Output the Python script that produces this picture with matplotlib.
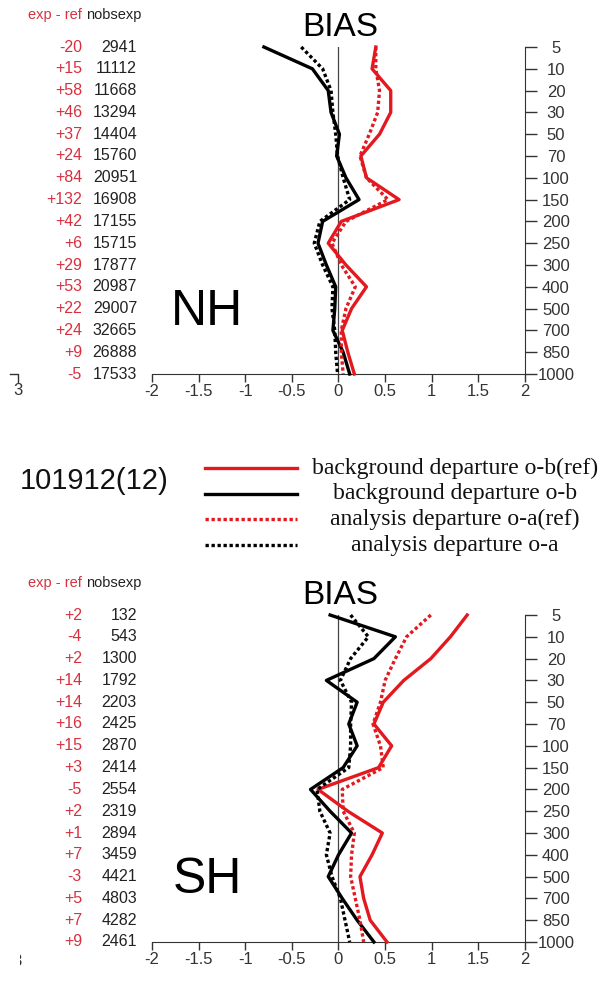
import matplotlib as mpl
mpl.use('Agg')
import matplotlib.pyplot as plt
from matplotlib.lines import Line2D
from matplotlib.transforms import blended_transform_factory, Bbox, TransformedBbox

# pressure levels (hPa), top to bottom
levels = ['5', '10', '20', '30', '50', '70', '100', '150', '200', '250', '300', '400', '500', '700', '850', '1000']
xticks = [-2, -1.5, -1, -0.5, 0, 0.5, 1, 1.5, 2]
xtick_labels = ['-2', '-1.5', '-1', '-0.5', '0', '0.5', '1', '1.5', '2']

# NH
nh_ob_ref = [0.40, 0.36, 0.56, 0.56, 0.44, 0.24, 0.30, 0.65, 0.03, -0.11, 0.08, 0.30, 0.14, 0.04, 0.10, 0.17]
nh_ob = [-0.80, -0.28, -0.11, -0.08, 0.01, -0.02, 0.08, 0.22, -0.17, -0.22, -0.13, -0.03, -0.04, -0.06, 0.05, 0.12]
nh_oa_ref = [0.40, 0.40, 0.44, 0.42, 0.33, 0.23, 0.30, 0.53, 0.08, -0.07, 0.03, 0.18, 0.08, 0.03, 0.03, 0.05]
nh_oa = [-0.40, -0.17, -0.08, -0.06, -0.03, -0.01, 0.05, 0.12, -0.20, -0.26, -0.17, -0.06, -0.07, -0.04, -0.03, -0.01]
nh_diff = ['-20', '+15', '+58', '+46', '+37', '+24', '+84', '+132', '+42', '+6', '+29', '+53', '+22', '+24', '+9', '-5']
nh_nobs = ['2941', '11112', '11668', '13294', '14404', '15760', '20951', '16908', '17155', '15715', '17877', '20987',
           '29007', '32665', '26888', '17533']

# SH
sh_ob_ref = [1.38, 1.20, 0.99, 0.70, 0.48, 0.38, 0.57, 0.43, -0.22, 0.10, 0.47, 0.36, 0.23, 0.27, 0.34, 0.52]
sh_ob = [-0.09, 0.61, 0.38, -0.13, 0.20, 0.11, 0.20, 0.05, -0.30, -0.09, 0.14, 0.00, -0.11, 0.04, 0.20, 0.38]
sh_oa_ref = [0.99, 0.73, 0.61, 0.50, 0.45, 0.37, 0.45, 0.48, 0.04, 0.05, 0.17, 0.14, 0.13, 0.18, 0.23, 0.27]
sh_oa = [0.13, 0.32, 0.13, 0.02, 0.14, 0.13, 0.13, 0.11, -0.23, -0.20, -0.09, -0.13, -0.07, 0.02, 0.07, 0.12]
sh_diff = ['+2', '-4', '+2', '+14', '+14', '+16', '+15', '+3', '-5', '+2', '+1', '+7', '-3', '+5', '+7', '+9']
sh_nobs = ['132', '543', '1300', '1792', '2203', '2425', '2870', '2414', '2554', '2319', '2894', '3459', '4421',
           '4803', '4282', '2461']

legend_labels = ['background departure o-b(ref)', 'background departure o-b',
                 'analysis departure o-a(ref)', 'analysis departure o-a']

RED = '#e3191f'
NUMRED = '#d8303f'
W, H = 606, 985

plt.rcParams['font.family'] = ['Liberation Sans', 'DejaVu Sans']

fig = plt.figure(figsize=(W / 100, H / 100), dpi=100)


def fx(x):
    return x / W


def fy(y):
    return 1 - y / H


styles = [dict(color=RED, ls='-'), dict(color='black', ls='-'),
          dict(color=RED, ls=(0, (1, 0.8))), dict(color='black', ls=(0, (1, 0.8)))]


def panel(top, series, diff, nobs, name, dy):
    ax = fig.add_axes([fx(152), fy(top + 327), 373 / W, 327 / H])
    y = list(range(len(levels)))
    ax.axvline(0, color='#444444', lw=0.9, zorder=1)
    for vals, st in zip(series, styles):
        ax.plot(vals, y, lw=2.4, clip_on=False, zorder=3, **st)
    ax.set_xlim(-2, 2)
    ax.set_ylim(len(levels) - 1, 0)
    ax.spines['left'].set_visible(False)
    ax.spines['top'].set_visible(False)
    ax.spines['right'].set_color('#333333')
    ax.spines['bottom'].set_color('#333333')
    ax.set_xticks(xticks)
    ax.set_xticklabels(xtick_labels)
    ax.set_yticks(y)
    ax.set_yticklabels(levels)
    ax.yaxis.tick_right()
    ax.tick_params(axis='y', direction='out', length=8.6, width=1, pad=13.7, labelsize=12, colors='#333333')
    ax.tick_params(axis='x', direction='out', length=6, width=1, pad=1, labelsize=12, colors='#333333')
    for lab in ax.get_yticklabels():
        lab.set_ha('center')

    tr = blended_transform_factory(fig.transFigure, ax.transData)
    for i in y:
        fig.text(fx(82), i, diff[i], color=NUMRED, fontsize=11.5, ha='right', va='center', transform=tr)
        fig.text(fx(137), i, nobs[i], color='#222222', fontsize=11.5, ha='right', va='center', transform=tr)
    fig.text(fx(82), fy(15 + dy), 'exp - ref', color=NUMRED, fontsize=10.5, ha='right', va='center')
    fig.text(fx(86), fy(15 + dy), 'nobsexp', color='#222222', fontsize=10.5, ha='left', va='center')
    fig.text(fx(340), fy(27 + dy), 'BIAS', fontsize=24, ha='center', va='center')
    fig.text(fx(207), fy(312 + dy), name, fontsize=36, ha='center', va='center')
    return ax


panel(47, [nh_ob_ref, nh_ob, nh_oa_ref, nh_oa], nh_diff, nh_nobs, 'NH', 0)
panel(615, [sh_ob_ref, sh_ob, sh_oa_ref, sh_oa], sh_diff, sh_nobs, 'SH', 568)

# legend between the panels
fig.text(fx(20), fy(481), '101912(12)', fontsize=21, ha='left', va='center', color='#111111')
for k, (lab, st) in enumerate(zip(legend_labels, styles)):
    yy = [468, 494, 519, 545][k]
    fig.add_artist(Line2D([fx(205), fx(297)], [fy(yy), fy(yy)], lw=2.4, transform=fig.transFigure, **st))
    fig.text(fx(455), fy(yy), lab, fontsize=17, ha='center', va='center',
             family=['Liberation Serif', 'DejaVu Serif'], color='#111111')

# cut-off remains of a neighbouring panel on the left
fig.add_artist(Line2D([fx(10), fx(18), fx(18)], [fy(374), fy(374), fy(382)], lw=1, color='#333333',
                      transform=fig.transFigure))
fig.text(fx(18), fy(390), '3', fontsize=12, ha='center', va='center', color='#333333')
t = fig.text(fx(17), fy(961), '3', fontsize=12, ha='center', va='center', color='#333333')
t.set_clip_box(TransformedBbox(Bbox([[fx(20), 0], [1, 1]]), fig.transFigure))
t.set_clip_on(True)

plt.savefig('out.png', dpi=100)
